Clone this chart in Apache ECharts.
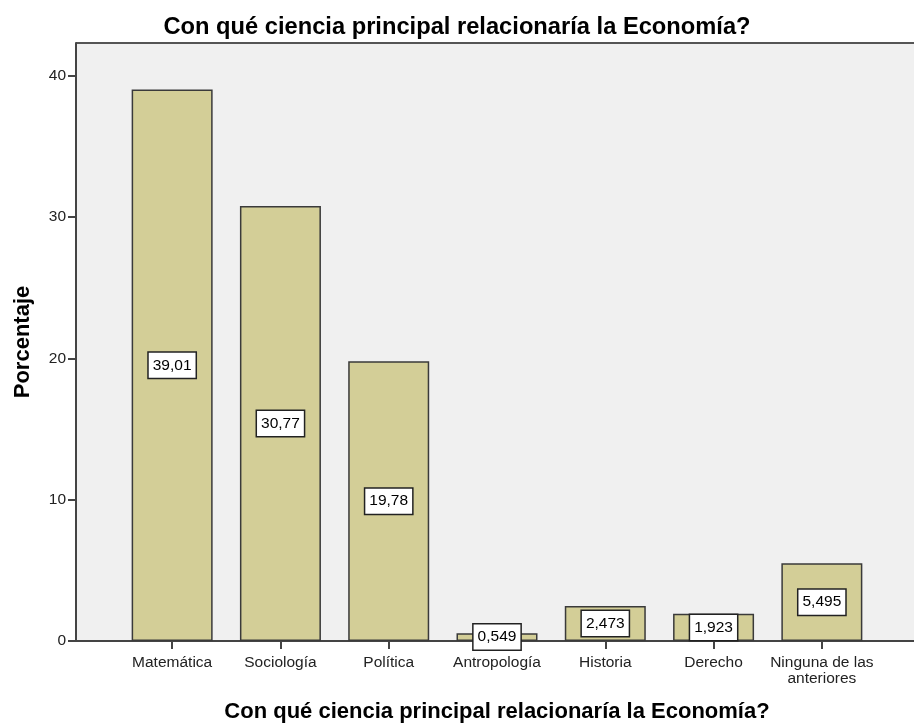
<!DOCTYPE html>
<html>
<head>
<meta charset="utf-8">
<script src="https://cdn.jsdelivr.net/npm/echarts@6/dist/echarts.min.js"></script>
<style>html,body{margin:0;padding:0;background:#fff}#c{width:914px;height:725px}</style>
</head>
<body>
<div id="c"></div>
<script>
const categories = ['Matemática','Sociología','Política','Antropología','Historia','Derecho','Ninguna de las\nanteriores'];
const values = [39.01, 30.77, 19.78, 0.549, 2.473, 1.923, 5.495];
const yTicks = [0, 10, 20, 30, 40];
const titleText = 'Con qué ciencia principal relacionaría la Economía?';

const FONT = 'Liberation Sans, Arial, sans-serif';
const YMAX = 42.3;
const chart = echarts.init(document.getElementById('c'), null, {renderer: 'canvas'});
chart.setOption({
  animation: false,
  backgroundColor: '#ffffff',
  title: {
    text: titleText, left: 'center', top: 10,
    textStyle: {fontFamily: FONT, fontSize: 23.7, fontWeight: 'bold', color: '#000'}
  },
  grid: [
    {left: 76, right: 0, top: 43, bottom: 84, show: true, backgroundColor: '#f0f0f0', borderWidth: 0,
     containLabel: false, outerBoundsMode: 'none'},
    {left: 118, right: 38, top: 43, bottom: 84, containLabel: false, outerBoundsMode: 'none'}
  ],
  xAxis: [
    {gridIndex: 0, type: 'value', min: 0, max: 1, show: true,
     axisLine: {show: true, lineStyle: {color: '#444', width: 2}},
     axisTick: {show: false}, axisLabel: {show: false}, splitLine: {show: false}},
    {gridIndex: 1, type: 'category', data: categories,
     axisLine: {show: false},
     axisTick: {show: true, alignWithLabel: true, length: 8, lineStyle: {color: '#444', width: 2}},
     axisLabel: {fontFamily: FONT, fontSize: 15.5, color: '#222', margin: 14, lineHeight: 16, interval: 0},
     name: titleText, nameLocation: 'middle', nameGap: 60,
     nameTextStyle: {fontFamily: FONT, fontSize: 22, fontWeight: 'bold', color: '#000'}}
  ],
  yAxis: [
    {gridIndex: 0, type: 'value', min: 0, max: YMAX, interval: 10,
     axisLine: {show: true, lineStyle: {color: '#444', width: 2}},
     axisTick: {show: true, length: 8, customValues: yTicks, lineStyle: {color: '#444', width: 2}},
     axisLabel: {fontFamily: FONT, fontSize: 15.5, color: '#222', margin: 10, customValues: yTicks},
     splitLine: {show: false},
     name: 'Porcentaje', nameLocation: 'middle', nameGap: 42, nameRotate: 90,
     nameTextStyle: {fontFamily: FONT, fontSize: 22, fontWeight: 'bold', color: '#000'}},
    {gridIndex: 1, type: 'value', min: 0, max: YMAX, show: false}
  ],
  graphic: [{
    type: 'line', shape: {x1: 76, y1: 43, x2: 914, y2: 43},
    style: {stroke: '#555', lineWidth: 2}
  }],
  series: [{
    type: 'bar', xAxisIndex: 1, yAxisIndex: 1,
    data: values, barWidth: 81,
    itemStyle: {color: '#d3ce97', borderColor: '#3a3a3a', borderWidth: 1.5},
    label: {
      show: true, position: 'inside',
      formatter: p => String(p.value).replace('.', ','),
      fontFamily: FONT, fontSize: 15.5, color: '#000',
      backgroundColor: '#fff', borderColor: '#222', borderWidth: 1.5,
      padding: [5, 4, 4, 4]
    }
  }]
});
</script>
</body>
</html>
